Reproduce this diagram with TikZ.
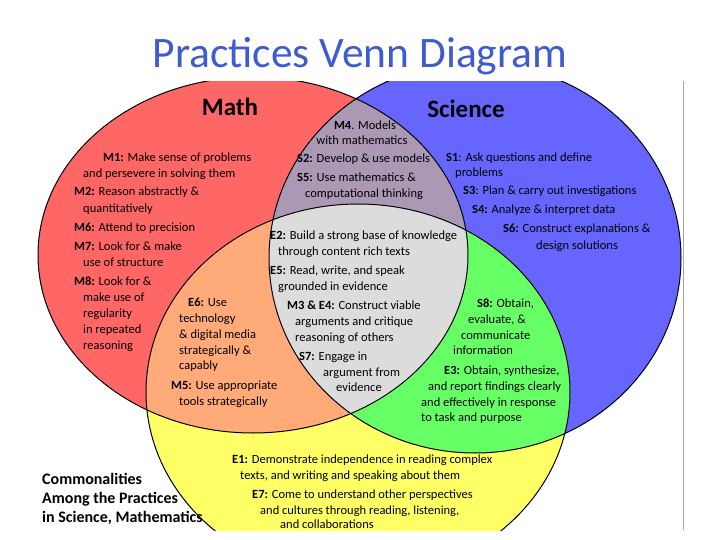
\documentclass[tikz,border=0pt]{standalone}
\usepackage{fontspec}
\setmainfont{Carlito}

\definecolor{titleblue}{RGB}{62,92,205}
\definecolor{mathred}{RGB}{255,102,102}
\definecolor{sciblue}{RGB}{102,102,255}
\definecolor{engyellow}{RGB}{255,255,102}
\definecolor{msmauve}{RGB}{170,152,180}
\definecolor{meorange}{RGB}{255,170,120}
\definecolor{segreen}{RGB}{102,255,102}
\definecolor{allgray}{RGB}{220,220,220}

% the three sets (1 unit = 1pt, y going down)
\newcommand{\mathell}{(253,255) ellipse [x radius=215pt, y radius=178pt]}
\newcommand{\sciell}{(475,258) ellipse [x radius=206pt, y radius=195pt]}
\newcommand{\engell}{(358,392) ellipse [x radius=212pt, y radius=188pt]}

\begin{document}
\begin{tikzpicture}[x=1pt, y=-1pt,
    txt/.style={anchor=base west, inner sep=0pt, font=\fontsize{12.5}{14}\selectfont},
    mid/.style={txt, anchor=base},
    head/.style={anchor=base, inner sep=0pt, font=\fontsize{25}{28}\selectfont\bfseries},
    note/.style={anchor=base west, inner sep=0pt, font=\fontsize{16}{18}\selectfont\bfseries}]
    \useasboundingbox (0,0) rectangle (720,540);

    \node[anchor=base, inner sep=0pt, text=titleblue, font=\fontsize{43.5}{48}\selectfont] (title) at (360,68) {Practices Venn Diagram};

    \begin{scope}
        \clip (0,82) rectangle (683,530);
        % Sets
        \fill[mathred] \mathell;
        \fill[sciblue] \sciell;
        \fill[engyellow] \engell;
        % Overlaps of two
        \begin{scope}
            \clip \mathell;
            \fill[msmauve] \sciell;
            \fill[meorange] \engell;
        \end{scope}
        \begin{scope}
            \clip \sciell;
            \fill[segreen] \engell;
        \end{scope}
        % Overlap of all three
        \begin{scope}
            \clip \mathell;
            \clip \sciell;
            \fill[allgray] \engell;
        \end{scope}
        \draw[line width=1pt] \mathell;
        \draw[line width=1pt] \sciell;
        \draw[line width=1pt] \engell;
    \end{scope}
    \draw[gray!70, line width=1pt] (683,81) -- (683,530);

    % Headings
    \node[head] (math) at (230,116) {Math};
    \node[head] (science) at (466,118) {Science};

    % Math only
    \node[txt] (m1a) at (103,162) {\textbf{M1:} Make sense of problems};
    \node[txt] (m1b) at (83,178) {and persevere in solving them};
    \node[txt] (m2a) at (74,196) {\textbf{M2:} Reason abstractly \&};
    \node[txt] (m2b) at (83,212) {quantitatively};
    \node[txt] (m6) at (74,231) {\textbf{M6:} Attend to precision};
    \node[txt] (m7a) at (74,250) {\textbf{M7:} Look for \& make};
    \node[txt] (m7b) at (83,266) {use of structure};
    \node[txt] (m8a) at (74,285) {\textbf{M8:} Look for \&};
    \node[txt] (m8b) at (83,301) {make use of};
    \node[txt] (m8c) at (83,317) {regularity};
    \node[txt] (m8d) at (83,333) {in repeated};
    \node[txt] (m8e) at (83,349) {reasoning};

    % Math and Science
    \node[mid] (m4a) at (365,130) {\textbf{M4}. Models};
    \node[mid] (m4b) at (362,145) {with mathematics};
    \node[txt] (s2) at (297,163) {\textbf{S2:} Develop \& use models};
    \node[txt] (s5a) at (297,182) {\textbf{S5:} Use mathematics \&};
    \node[txt] (s5b) at (305,198) {computational thinking};

    % Science only
    \node[txt] (s1a) at (446,162) {\textbf{S1}: Ask questions and define};
    \node[txt] (s1b) at (455,177) {problems};
    \node[txt] (s3) at (463,195) {\textbf{S3}: Plan \& carry out investigations};
    \node[txt] (s4) at (472,214) {\textbf{S4:} Analyze \& interpret data};
    \node[txt] (s6a) at (503,233) {\textbf{S6:} Construct explanations \&};
    \node[txt] (s6b) at (536,249) {design solutions};

    % All three
    \node[txt] (e2a) at (270,240) {\textbf{E2:} Build a strong base of knowledge};
    \node[txt] (e2b) at (278,255) {through content rich texts};
    \node[txt] (e5a) at (270,274) {\textbf{E5:} Read, write, and speak};
    \node[txt] (e5b) at (278,290) {grounded in evidence};
    \node[txt] (m3a) at (287,309) {\textbf{M3 \& E4:} Construct viable};
    \node[txt] (m3b) at (295,325) {arguments and critique};
    \node[txt] (m3c) at (295,341) {reasoning of others};
    \node[txt] (s7a) at (299,360) {\textbf{S7:} Engage in};
    \node[txt] (s7b) at (323,376) {argument from};
    \node[txt] (s7c) at (336,391) {evidence};

    % Math and English
    \node[txt] (e6a) at (188,306) {\textbf{E6:} Use};
    \node[txt] (e6b) at (179,322) {technology};
    \node[txt] (e6c) at (179,338) {\& digital media};
    \node[txt] (e6d) at (179,354) {strategically \&};
    \node[txt] (e6e) at (179,369) {capably};
    \node[txt] (m5a) at (171,389) {\textbf{M5:} Use appropriate};
    \node[txt] (m5b) at (179,405) {tools strategically};

    % Science and English
    \node[txt] (s8a) at (477,307) {\textbf{S8:} Obtain,};
    \node[txt] (s8b) at (468,323) {evaluate, \&};
    \node[txt] (s8c) at (461,339) {communicate};
    \node[txt] (s8d) at (453,354) {information};
    \node[txt] (e3a) at (444,374) {\textbf{E3:} Obtain, synthesize,};
    \node[txt] (e3b) at (428,390) {and report findings clearly};
    \node[txt] (e3c) at (421,406) {and effectively in response};
    \node[txt] (e3d) at (421,421) {to task and purpose};

    % English
    \node[txt] (e1a) at (232,463) {\textbf{E1:} Demonstrate independence in reading complex};
    \node[txt] (e1b) at (240,479) {texts, and writing and speaking about them};
    \node[txt] (e7a) at (252,498) {\textbf{E7:} Come to understand other perspectives};
    \node[txt] (e7b) at (260,514) {and cultures through reading, listening,};
    \node[txt] (e7c) at (280,528) {and collaborations};

    % Side note
    \node[note] (common) at (42,484) {Commonalities};
    \node[note] (among) at (42,503) {Among the Practices};
    \node[note] (insci) at (42,522) {in Science, Mathematics};
\end{tikzpicture}
\end{document}
